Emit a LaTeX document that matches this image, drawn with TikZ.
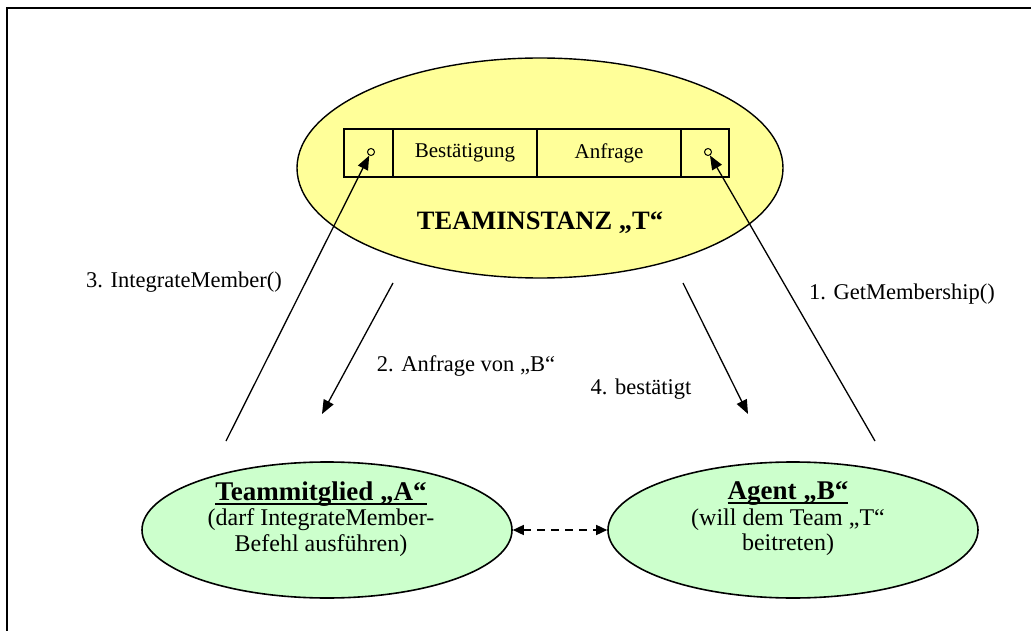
\documentclass[tikz,border=0pt]{standalone}
\usepackage{fontspec}
\setmainfont{Liberation Serif}
\usetikzlibrary{arrows.meta,shapes.geometric,positioning}

\definecolor{teamyellow}{HTML}{FFFF99}
\definecolor{agentgreen}{HTML}{CCFFCC}

\newcommand{\blobhead}[1]{\setbox0\hbox{\bfseries\fontsize{27}{28}\selectfont #1}\rlap{\rule[-4.5pt]{\wd0}{2pt}}\box0}

\tikzset{>={Triangle[length=14pt,width=11pt]}}
\tikzset{
	teamblob/.style={ellipse, draw, line width=1.4pt, fill=teamyellow, minimum width=486pt, minimum height=220pt, inner sep=0pt},
	agentblob/.style={ellipse, draw, line width=1.6pt, fill=agentgreen, minimum width=370pt, minimum height=136pt, inner sep=0pt},
	slot/.style={draw, line width=1.3pt, minimum height=48pt, inner sep=0pt, outer sep=0pt, font=\fontsize{21}{24}\selectfont},
	port/.style={circle, draw, line width=1pt, fill=teamyellow, inner sep=0pt, minimum size=7pt},
	msg/.style={font=\fontsize{22.5}{25}\selectfont},
	blobtext/.style={align=center, font=\fontsize{24}{25.5}\selectfont},
	link/.style={->, line width=1.3pt}
}

\begin{document}
\begin{tikzpicture}[x=1pt,y=-1pt]
		\clip (0,0) rectangle (1031,631);
		\fill[white] (0,0) rectangle (1031,631);		% background
		\draw[line width=1.3pt] (7,8) rectangle (1040,640);	% frame
		
		% team instance
		\node[teamblob] (team) at (540,168) {};
		\node[slot, minimum width=49pt] (slotL) at (368.5,153) {};
		\node[slot, minimum width=144pt, right=0pt of slotL] (confirm) {Bestätigung};
		\node[slot, minimum width=144pt, right=0pt of confirm] (request) {Anfrage};
		\node[slot, minimum width=48pt, right=0pt of request] (slotR) {};
		\node[port] (portL) at (371,152) {};
		\node[port] (portR) at (708,152) {};
		\node[font=\bfseries\fontsize{26.5}{30}\selectfont] (teamname) at (540,223) {TEAMINSTANZ „T“};
		
		% members
		\node[agentblob] (memberA) at (327,530) {};
		\node[blobtext] (memberAtext) at (321,519) {\blobhead{Teammitglied „A“}\\(darf IntegrateMember-\\Befehl ausführen)};
		\node[agentblob] (agentB) at (793,530) {};
		\node[blobtext] (agentBtext) at (788,519) {\blobhead{Agent „B“}\\(will dem Team „T“\\beitreten)};
		
		% free ends of the messages
		\coordinate (getStart) at (875,441);
		\coordinate (integrateStart) at (226,441);
		\coordinate (askStart) at (393,283);
		\coordinate (askEnd) at (322,414);
		\coordinate (okStart) at (683,283);
		\coordinate (okEnd) at (748,414);
		
		% messages
		\draw[link] (getStart) -- (portR);
		\draw[link] (integrateStart) -- (portL);
		\draw[link] (askStart) -- (askEnd);
		\draw[link] (okStart) -- (okEnd);
		\draw[<->, line width=1.5pt, dash pattern=on 8pt off 6pt, >={Triangle[length=11pt,width=10pt]}] (memberA) -- (agentB);
		
		\node[msg] (m1) at (902,294) {1. GetMembership()};
		\node[msg] (m2) at (466,366) {2. Anfrage von „B“};
		\node[msg] (m3) at (184,282) {3. IntegrateMember()};
		\node[msg] (m4) at (641,389) {4. bestätigt};
\end{tikzpicture}
\end{document}
